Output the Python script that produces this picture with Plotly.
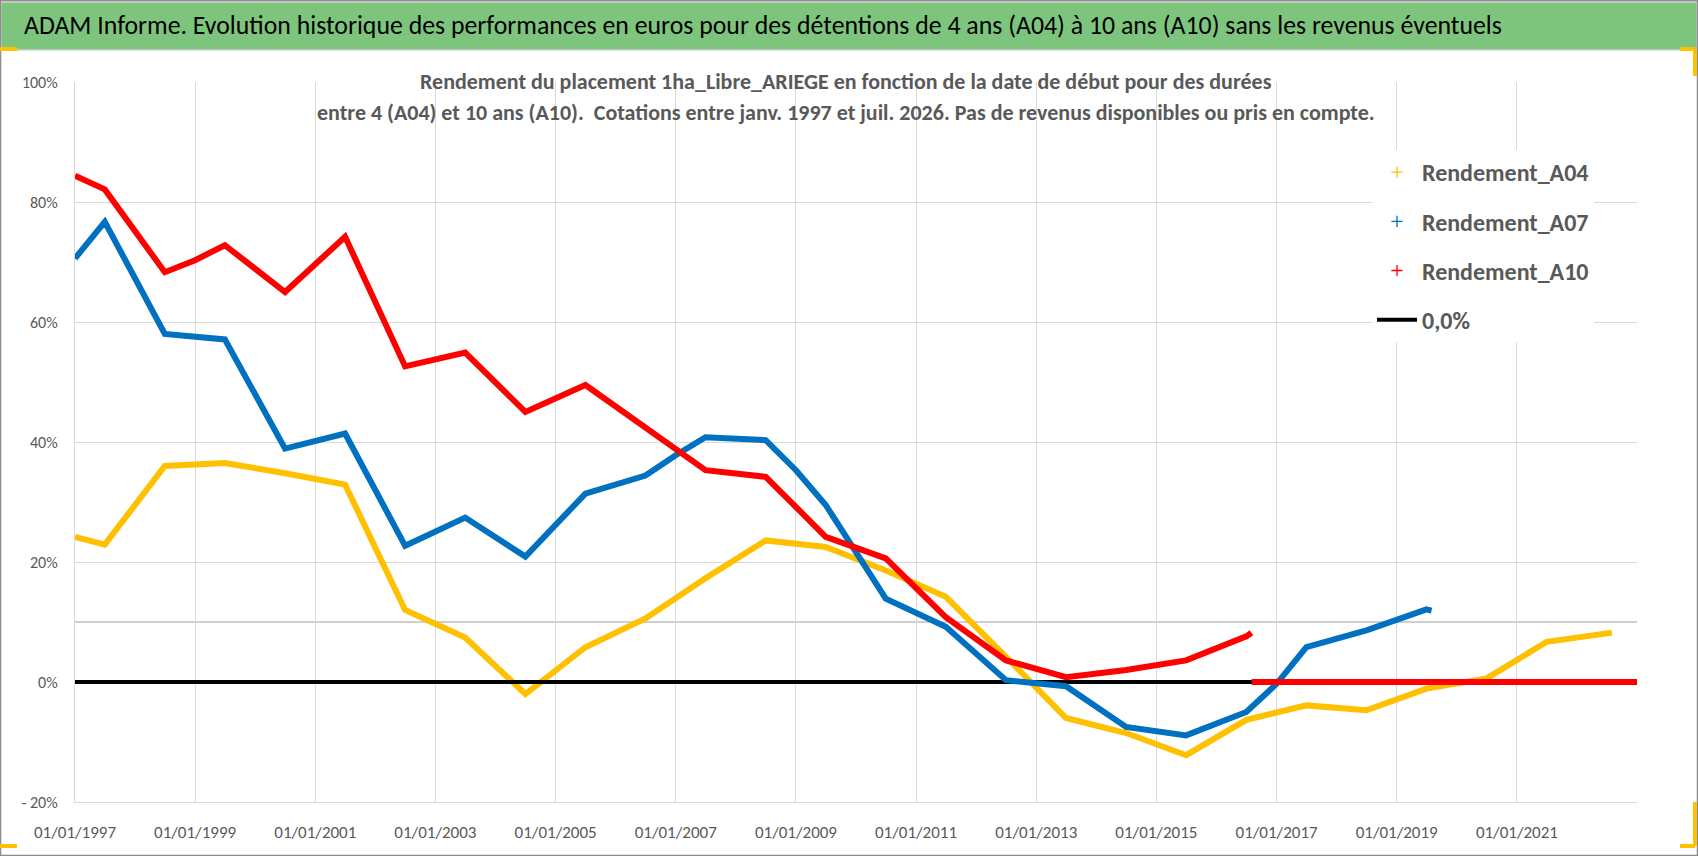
import plotly.graph_objs as go

# valeurs (rendement en %)
dates_a04 = ["1997-01-01", "1997-07-01", "1998-07-01", "1999-07-01", "2000-07-01", "2001-07-01",
             "2002-07-01", "2003-07-01", "2004-07-01", "2005-07-01", "2006-07-01", "2007-07-01",
             "2008-07-01", "2009-07-01", "2010-07-01", "2011-07-01", "2012-07-01", "2013-07-01",
             "2014-07-01", "2015-07-01", "2016-07-01", "2017-07-01", "2018-07-01", "2019-07-01",
             "2020-07-01", "2021-07-01", "2022-07-01", "2022-08-01"]
rend_a04 = [24.2, 22.9, 36.0, 36.5, 34.8, 32.9,
            12.0, 7.4, -2.0, 5.8, 10.6, 17.3,
            23.6, 22.5, 18.6, 14.2, 4.2, -6.0,
            -8.5, -12.2, -6.3, -3.9, -4.7, -1.1,
            0.6, 6.7, 8.1, 8.2]

dates_a07 = ["1997-01-01", "1997-07-01", "1998-07-01", "1999-01-01", "1999-07-01", "2000-07-01",
             "2001-07-01", "2002-07-01", "2003-07-01", "2004-07-01", "2005-07-01", "2006-07-01",
             "2007-01-01", "2007-07-01", "2008-07-01", "2009-01-01", "2009-07-01", "2010-07-01",
             "2011-07-01", "2012-07-01", "2013-07-01", "2014-07-01", "2015-07-01", "2016-07-01",
             "2017-01-01", "2017-07-01", "2018-07-01", "2019-07-01", "2019-08-01"]
rend_a07 = [70.6, 76.7, 58.0, 57.5, 57.1, 38.9,
            41.4, 22.7, 27.4, 20.9, 31.4, 34.4,
            37.8, 40.8, 40.3, 35.3, 29.5, 13.9,
            9.2, 0.3, -0.7, -7.5, -8.9, -5.0,
            -0.3, 5.8, 8.6, 12.1, 11.9]

dates_a10 = ["1997-01-01", "1997-07-01", "1998-07-01", "1999-01-01", "1999-07-01", "2000-07-01",
             "2001-07-01", "2002-07-01", "2003-07-01", "2004-07-01", "2005-07-01", "2006-07-01",
             "2007-07-01", "2008-07-01", "2009-07-01", "2010-07-01", "2011-07-01", "2012-07-01",
             "2013-07-01", "2014-07-01", "2015-07-01", "2016-07-01", "2016-08-01",
             None, "2016-08-02", "2023-01-01"]
rend_a10 = [84.4, 82.1, 68.3, 70.3, 72.8, 65.0,
            74.2, 52.6, 54.9, 45.0, 49.5, 42.3,
            35.3, 34.2, 24.2, 20.6, 10.8, 3.6,
            0.8, 2.0, 3.6, 7.6, 8.2,
            None, 0.0, 0.0]

dates_zero = ["1997-01-01", "2023-01-01"]
rend_zero = [0.0, 0.0]

tick_years = [1997, 1999, 2001, 2003, 2005, 2007, 2009, 2011, 2013, 2015, 2017, 2019, 2021]
y_ticks = [-20, 0, 20, 40, 60, 80, 100]
y_ticktext = ["- 20%", "0%", "20%", "40%", "60%", "80%", "100%"]
ligne_10 = 10

W, H = 1698, 856
L, R, T, B = 75, 1637, 82, 802


def px(x):
    return (x - L) / (R - L)


def py(y):
    return (B - y) / (B - T)


FONT = "Carlito, 'Liberation Sans Narrow', 'DejaVu Sans Condensed', sans-serif"
GRIS = "#595959"
ORANGE = "#FFC000"

series = [
    ("Rendement_A04", dates_a04, rend_a04, "#FFC000", 1),
    ("0,0%", dates_zero, rend_zero, "black", 4),
    ("Rendement_A07", dates_a07, rend_a07, "#0070C0", 2),
    ("Rendement_A10", dates_a10, rend_a10, "#FF0000", 3),
]

data = []
for name, xs, ys, col, rank in series:
    w = 4 if name == "0,0%" else 6
    data.append(go.Scatter(x=xs, y=ys, mode="lines", line=dict(color=col, width=w),
                           name=name, showlegend=(name == "0,0%"), legendrank=rank,
                           legendgroup=name, connectgaps=False))
    if name != "0,0%":
        # entrée de légende en "+" comme dans Excel
        data.append(go.Scatter(x=[None], y=[None], mode="markers", name=name, legendrank=rank,
                               legendgroup=name,
                               marker=dict(symbol="cross-thin", size=8,
                                           line=dict(color=col, width=1.3))))

# petites poignées orange de sélection Excel
poignees = [
    (0, 49, 17, 49), (1680, 49, 1695, 49), (1695, 49, 1695, 76),
    (1695, 802, 1695, 846), (1680, 846, 1695, 846), (0, 846, 17, 846),
]

shapes = [
    dict(type="line", xref="paper", yref="y", x0=0, x1=1, y0=ligne_10, y1=ligne_10,
         line=dict(color="#BFBFBF", width=1.5), layer="below"),
    dict(type="rect", xref="paper", yref="paper", x0=px(1), x1=px(W - 1), y0=py(50), y1=py(2),
         fillcolor="#7DC57D", line=dict(color="#D0D0D0", width=1.5), layer="below"),
    dict(type="rect", xref="paper", yref="paper", x0=px(0.5), x1=px(W - 0.5), y0=py(H - 0.5), y1=py(0.5),
         fillcolor="rgba(0,0,0,0)", line=dict(color="#8C8C8C", width=1.5)),
]
for x0, y0, x1, y1 in poignees:
    shapes.append(dict(type="line", xref="paper", yref="paper", x0=px(x0), y0=py(y0),
                       x1=px(x1), y1=py(y1), line=dict(color=ORANGE, width=4)))

layout = go.Layout(
    width=W, height=H,
    margin=dict(l=L, r=W - R, t=T, b=H - B),
    paper_bgcolor="white", plot_bgcolor="white",
    font=dict(family=FONT, color=GRIS),
    xaxis=dict(type="date", range=["1997-01-01", "2023-01-01"],
               tickvals=["%d-01-01" % y for y in tick_years],
               ticktext=["01/01/%d" % y for y in tick_years],
               tickfont=dict(size=17, color=GRIS), ticklabelstandoff=14,
               showgrid=True, gridcolor="#D9D9D9", gridwidth=1.3,
               showline=True, linecolor="#D9D9D9", linewidth=1.3, zeroline=False),
    yaxis=dict(range=[-20, 100], tickvals=y_ticks, ticktext=y_ticktext,
               tickfont=dict(size=16, color=GRIS), ticklabelstandoff=13,
               showgrid=True, gridcolor="#D9D9D9", gridwidth=1.3,
               showline=True, linecolor="#D9D9D9", linewidth=1.3, zeroline=False),
    legend=dict(x=px(1372), y=py(150), xanchor="left", yanchor="top",
                bgcolor="white", font=dict(size=24, color=GRIS, weight="bold"),
                traceorder="grouped", tracegroupgap=15, itemwidth=40),
    shapes=shapes,
    annotations=[
        dict(xref="paper", yref="paper", x=px(22), y=py(25), xanchor="left", yanchor="middle",
             showarrow=False, font=dict(size=25.8, color="black"),
             text="ADAM Informe. Evolution historique des performances en euros pour des détentions "
                  "de 4 ans (A04) à 10 ans (A10) sans les revenus éventuels"),
        dict(xref="paper", yref="paper", x=px(846), y=py(81), xanchor="center", yanchor="middle",
             showarrow=False, font=dict(size=22, color=GRIS, weight="bold"),
             text="Rendement du placement 1ha_Libre_ARIEGE en fonction de la date de début pour des durées"),
        dict(xref="paper", yref="paper", x=px(846), y=py(113), xanchor="center", yanchor="middle",
             showarrow=False, font=dict(size=22, color=GRIS, weight="bold"),
             text="entre 4 (A04) et 10 ans (A10).  Cotations entre janv. 1997 et juil. 2026. "
                  "Pas de revenus disponibles ou pris en compte."),
    ],
)

fig = go.Figure(data=data, layout=layout)
fig.write_html("out.html", config={"displayModeBar": False},
               post_script="document.body.style.margin='0px';")
